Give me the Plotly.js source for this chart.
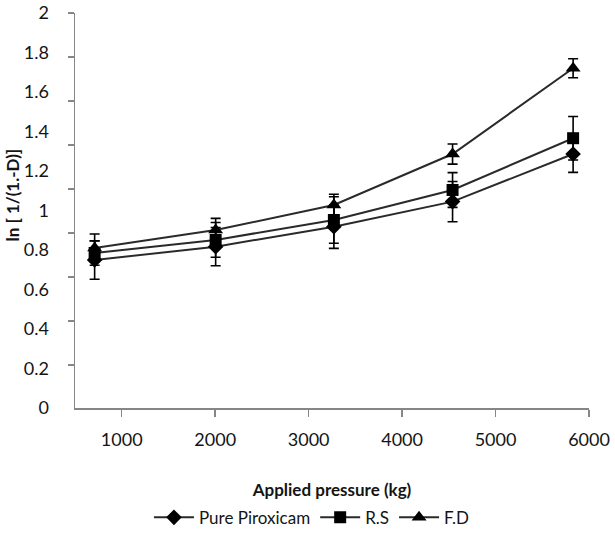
<!DOCTYPE html>
<html>
<head>
<meta charset="utf-8">
<script src="https://cdn.plot.ly/plotly-3.0.1.min.js"></script>
<style>
  html, body { margin: 0; padding: 0; background: #ffffff; }
  #chart { width: 615px; height: 538px; }
</style>
</head>
<body>
<div id="chart"></div>
<script>
// Applied pressure (kg)
const pressure = [710, 2005, 3270, 4540, 5830];

// ln[1/(1-D)] values
const purePiroxicam = [0.749, 0.817, 0.918, 1.045, 1.286];
const rs            = [0.785, 0.851, 0.952, 1.104, 1.366];
const fd            = [0.810, 0.901, 1.028, 1.286, 1.720];

// error bar half-lengths
const purePiroxicamErr = [0.097, 0.097, 0.110, 0.102, 0.093];
const rsErr            = [0.062, 0.088, 0.118, 0.088, 0.110];
const fdErr            = [0.071, 0.059, 0.054, 0.051, 0.048];

const seriesNames = ['Pure Piroxicam', 'R.S', 'F.D'];
const yTickVals = [0, 0.2, 0.4, 0.6, 0.8, 1, 1.2, 1.4, 1.6, 1.8, 2];
const yTickText = ['0', '0.2', '0.4', '0.6', '0.8', '1', '1.2', '1.4', '1.6', '1.8', '2'];
const xTickVals = [1000, 2000, 3000, 4000, 5000, 6000];
const xTitle = 'Applied pressure (kg)';
const yTitle = 'ln [ 1/(1.-D)]';

const FONT = 'Lato, "DejaVu Sans", sans-serif';
const TXT = '#141414';
const lineStyle = { color: '#2a2a2a', width: 2 };
const errStyle = (arr) => ({ type: 'data', array: arr, visible: true, color: '#000000', thickness: 1.6, width: 5 });

const traces = [
  {
    x: pressure, y: purePiroxicam, name: seriesNames[0], type: 'scatter', mode: 'lines+markers',
    line: lineStyle, marker: { symbol: 'diamond', size: 12, color: '#000000' },
    error_y: errStyle(purePiroxicamErr)
  },
  {
    x: pressure, y: rs, name: seriesNames[1], type: 'scatter', mode: 'lines+markers',
    line: lineStyle, marker: { symbol: 'square', size: 12, color: '#000000' },
    error_y: errStyle(rsErr)
  },
  {
    x: pressure, y: fd, name: seriesNames[2], type: 'scatter', mode: 'lines+markers',
    line: lineStyle, marker: { symbol: 'triangle-up', size: 13, color: '#000000' },
    error_y: errStyle(fdErr)
  },
  { x: [], y: [], yaxis: 'y2', showlegend: false, hoverinfo: 'skip', type: 'scatter' }
];

const layout = {
  width: 615, height: 538,
  margin: { l: 75, r: 26, t: 13, b: 130, autoexpand: false },
  paper_bgcolor: '#ffffff', plot_bgcolor: '#ffffff',
  font: { family: FONT, color: TXT, size: 17 },
  showlegend: true,
  legend: {
    orientation: 'h', x: 0.461, xanchor: 'center', y: -0.278, yanchor: 'middle',
    font: { family: FONT, size: 17, color: TXT },
    itemwidth: 40, traceorder: 'normal', bgcolor: 'rgba(0,0,0,0)'
  },
  xaxis: {
    range: [500, 6000], tickvals: xTickVals, ticks: 'outside', ticklen: 7, tickwidth: 1.5,
    tickcolor: '#868686', showline: true, linecolor: '#868686', linewidth: 1.5,
    showgrid: false, zeroline: false, ticklabelstandoff: 8, automargin: false,
    tickfont: { family: FONT, size: 18, color: TXT },
    title: { text: xTitle, font: { family: FONT, size: 17, color: TXT, weight: 'bold' }, standoff: 35 }
  },
  yaxis: {
    range: [0, 2], tickvals: yTickVals, ticktext: yTickText, ticks: '',
    showline: true, linecolor: '#868686', linewidth: 1.5, automargin: false,
    showgrid: false, zeroline: false, ticklabelstandoff: 21,
    tickfont: { family: FONT, size: 18, color: TXT }
  },
  yaxis2: {
    overlaying: 'y', side: 'left', range: [0.205, 2], dtick: 0.2, tick0: 0,
    ticks: 'outside', ticklen: 6, tickwidth: 1.5, tickcolor: '#868686',
    showticklabels: false, showgrid: false, zeroline: false, showline: false
  },
  annotations: [
    {
      text: yTitle, textangle: -90, showarrow: false,
      xref: 'paper', x: -0.121, xanchor: 'center',
      yref: 'paper', y: 0.54, yanchor: 'middle',
      font: { family: FONT, size: 17, color: TXT, weight: 'bold' }
    }
  ]
};

Plotly.newPlot('chart', traces, layout, { staticPlot: true, displayModeBar: false });
</script>
</body>
</html>
